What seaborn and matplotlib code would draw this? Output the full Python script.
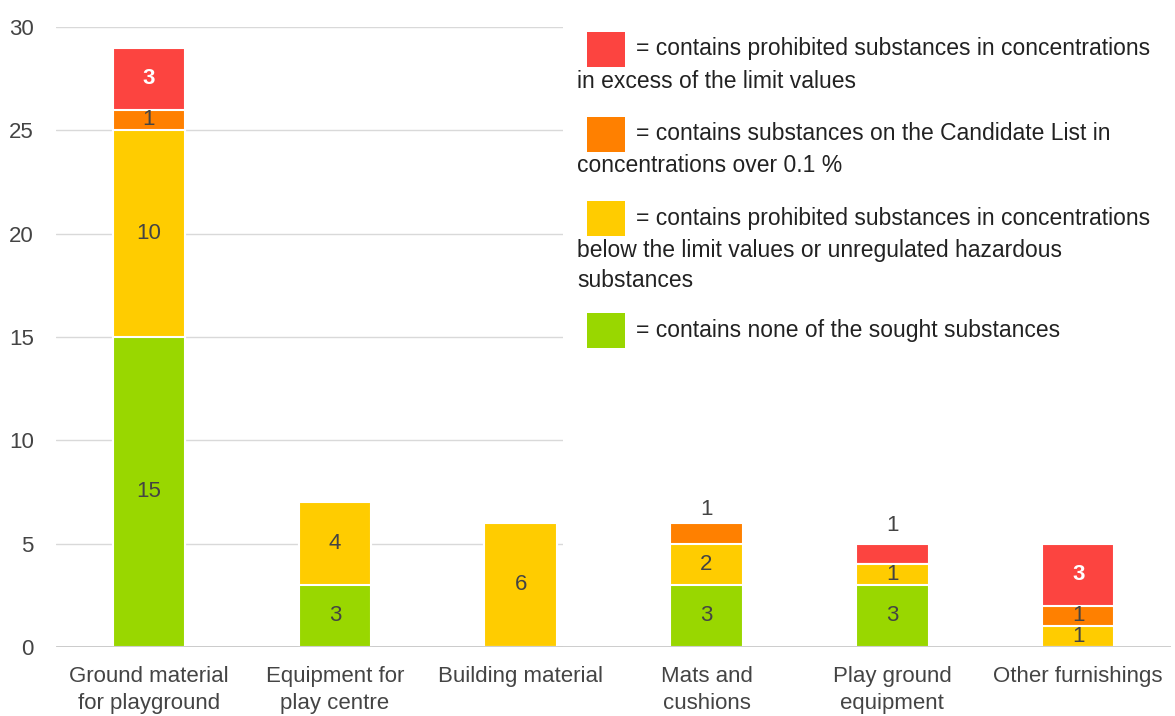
import pandas as pd
import seaborn as sns
import matplotlib.pyplot as plt
from matplotlib.patches import Rectangle

categories = ["Ground material\nfor playground", "Equipment for\nplay centre", "Building material",
              "Mats and\ncushions", "Play ground\nequipment", "Other furnishings"]
none_found = [15, 3, 0, 3, 3, 0]
below_limit = [10, 4, 6, 2, 1, 1]
candidate = [1, 0, 0, 1, 0, 1]
above_limit = [3, 0, 0, 0, 1, 3]

legend_texts = ["= contains prohibited substances in concentrations\nin excess of the limit values",
                "= contains substances on the Candidate List in\nconcentrations over 0.1 %",
                "= contains prohibited substances in concentrations\nbelow the limit values or unregulated hazardous\nsubstances",
                "= contains none of the sought substances"]

c_green = "#99d700"
c_yellow = "#ffcc00"
c_orange = "#ff8000"
c_red = "#fc4440"
txt = "#444444"
FS = 16

df = pd.DataFrame({"cat": categories, "green": none_found, "yellow": below_limit,
                   "orange": candidate, "red": above_limit})
df["c1"] = df["green"]
df["c2"] = df["c1"] + df["yellow"]
df["c3"] = df["c2"] + df["orange"]
df["c4"] = df["c3"] + df["red"]

sns.set_style("white")
plt.rcParams["font.family"] = ["Liberation Sans", "DejaVu Sans"]

fig = plt.figure(figsize=(11.75, 7.16), dpi=100)
ax = fig.add_axes([0.0477, 0.0964, 0.949, 0.866])

# draw cumulative totals, top layer first
for col, color in [("c4", c_red), ("c3", c_orange), ("c2", c_yellow), ("c1", c_green)]:
    sns.barplot(data=df, x="cat", y=col, color=color, width=0.39, ax=ax,
                edgecolor="white", linewidth=1.5, saturation=1, zorder=3)

ax.set_ylim(0, 30)
ax.set_yticks(range(0, 31, 5))
ax.yaxis.grid(True, color="#d9d9d9", linewidth=1, zorder=0)
ax.axhline(0, color="#bfbfbf", linewidth=1.8, zorder=4)
for s in ax.spines.values():
    s.set_visible(False)
ax.set_xlabel("")
ax.set_ylabel("")
ax.tick_params(axis="both", length=0, labelsize=FS, labelcolor=txt)
ax.tick_params(axis="x", pad=14)
ax.tick_params(axis="y", pad=16)
for t in ax.get_xticklabels():
    t.set_linespacing(1.35)
ax.set_xlim(-0.5, 5.5)

# segment labels
above = {3: 0.63, 4: 0.9}
for i in range(len(categories)):
    base = 0
    for vals, col in [(none_found, "green"), (below_limit, "yellow"), (candidate, "orange"), (above_limit, "red")]:
        v = vals[i]
        if v > 0:
            y = base + v / 2
            color = txt
            weight = "normal"
            if col == "red" and v >= 3:
                color = "white"
                weight = "bold"
            if v == 1 and col in ("orange", "red") and i in above:
                y = base + v + above[i]
            ax.text(i, y, str(v), ha="center", va="center", fontsize=FS,
                    color=color, fontweight=weight, zorder=5)
        base += v

# legend box
ax.add_patch(Rectangle((0.455, 0.0), 0.6, 1.0, transform=ax.transAxes, facecolor="white",
                       edgecolor="none", zorder=1))
W, H = 1175, 716
squares = [(32, c_red), (117, c_orange), (201, c_yellow), (313, c_green)]
for (top, color), label in zip(squares, legend_texts):
    fig.patches.append(Rectangle((587 / W, 1 - (top + 35) / H), 38 / W, 35 / H,
                                 transform=fig.transFigure, facecolor=color, edgecolor="none"))
    lines = label.split("\n")
    fig.text(636 / W, 1 - (top + 17) / H, lines[0], ha="left", va="center", fontsize=16.5, color="#222222")
    for k, ln in enumerate(lines[1:]):
        fig.text(577 / W, 1 - (top + 49 + 31 * k) / H, ln, ha="left", va="center", fontsize=16.5, color="#222222")

fig.savefig("out.png", dpi=100)
